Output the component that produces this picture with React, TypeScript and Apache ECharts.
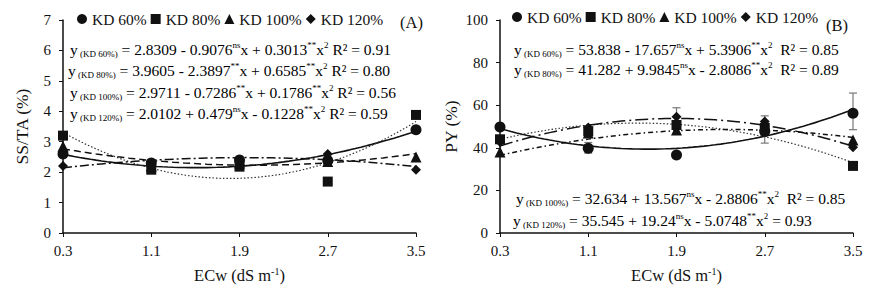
import React, { useEffect, useRef } from "react";
import * as echarts from "echarts";

// ---------- data ----------
const ecwLevels = [0.3, 1.1, 1.9, 2.7, 3.5];
const tickLabels = ["0.3", "1.1", "1.9", "2.7", "3.5"];
const seriesNames = ["KD 60%", "KD 80%", "KD 100%", "KD 120%"];

// Panel A: SS/TA (%)
const ssta60 = [2.6, 2.3, 2.4, 2.38, 3.39];
const ssta80 = [3.2, 2.08, 2.18, 1.69, 3.88];
const ssta100 = [2.85, 2.2, 2.3, 2.35, 2.5];
const ssta120 = [2.2, 2.2, 2.35, 2.6, 2.08];

// Panel B: PY (%)
const py60 = [49.8, 39.8, 36.6, 47.6, 56.2];
const py80 = [44.0, 47.8, 50.7, 49.3, 31.5];
const py100 = [38.0, 47.0, 48.4, 50.7, 43.7];
const py120 = [42.7, 49.5, 54.6, 52.3, 40.2];

// Panel B error bars: [ECw, low, high]
const pyErrorBars = [
  [1.1, 37.5, 42.5],
  [1.1, 45.8, 50.2],
  [1.9, 50.5, 58.8],
  [2.7, 42.2, 55.0],
  [3.5, 48.5, 65.7],
  [3.5, 30.0, 33.5],
];

// Quadratic trend coefficients [a, b, c] (y = a + b x + c x^2) as drawn
const sstaCoef60 = [2.8309, -0.9076, 0.3013];
const sstaCoef80 = [3.9605, -2.3897, 0.6585];
const sstaCoef100 = [2.9711, -0.7286, 0.1786];
const sstaCoef120 = [2.0102, 0.479, -0.1228];
const pyCoef60 = [53.838, -17.657, 5.3906];
const pyCoef80 = [39.9, 15.12, -4.883]; // drawn dotted curve
const pyCoef100 = [32.634, 13.567, -2.8806];
const pyCoef120 = [35.545, 19.24, -5.0748];

// Equation texts
const eqA = [
  ["KD 60%", "2.8309 - 0.9076", "ns", "x + 0.3013", "**", " R\u00b2 = 0.91"],
  ["KD 80%", "3.9605 - 2.3897", "**", "x + 0.6585", "**", " R\u00b2 = 0.80"],
  ["KD 100%", "2.9711 - 0.7286", "**", "x + 0.1786", "**", " R\u00b2 = 0.56"],
  ["KD 120%", "2.0102 + 0.479", "ns", "x - 0.1228", "**", " R\u00b2 = 0.59"],
];
const eqB = [
  ["KD 60%", "53.838 - 17.657", "ns", "x + 5.3906", "**", "  R\u00b2 = 0.85"],
  ["KD 80%", "41.282 + 9.9845", "ns", "x - 2.8086", "**", "  R\u00b2 = 0.89"],
  ["KD 100%", "32.634 + 13.567", "ns", "x - 2.8806", "**", "  R\u00b2 = 0.85"],
  ["KD 120%", "35.545 + 19.24", "ns", "x - 5.0748", "**", " = 0.93"],
];

const FONT = "'Liberation Serif', 'Times New Roman', serif";
const INK = "#111";

function curve(coef: number[]) {
  const pts: number[][] = [];
  for (let i = 0; i <= 64; i++) {
    const x = 0.3 + (3.2 * i) / 64;
    pts.push([x, coef[0] + coef[1] * x + coef[2] * x * x]);
  }
  return pts;
}

function eqText(e: string[]) {
  return (
    "{n|y}{sub| (" + e[0] + ")}{n| = " + e[1] + "}{sup|" + e[2] + "}{n|" + e[3] +
    "}{sup|" + e[4] + "}{n|x}{sup|2}{n|" + e[5] + "}"
  );
}

const rich = {
  n: { fontSize: 15.5, fontFamily: FONT, color: INK, lineHeight: 18 },
  sub: { fontSize: 9, fontFamily: FONT, color: INK, verticalAlign: "bottom", lineHeight: 9 },
  sup: { fontSize: 9, fontFamily: FONT, color: INK, verticalAlign: "top", lineHeight: 9 },
};

export default function App() {
  const ref = useRef<HTMLDivElement>(null);
  useEffect(() => {
    if (!ref.current) return;
    const chart = echarts.init(ref.current, null, { renderer: "svg" });
    const symbols = ["circle", "rect", "triangle", "diamond"];
    const symSizes = [11, 10, 11, 10];
    const sstaData = [ssta60, ssta80, ssta100, ssta120];
    const pyData = [py60, py80, py100, py120];
    const sstaCoefs = [sstaCoef60, sstaCoef80, sstaCoef100, sstaCoef120];
    const pyCoefs = [pyCoef60, pyCoef80, pyCoef100, pyCoef120];
    const dashA: any[] = ["solid", [1.5, 2], [7, 4], [9, 3, 2, 3]];
    const dashB: any[] = ["solid", [1.5, 2], [5, 3, 1.5, 3], [13, 4, 2, 4]];
    const widthsA = [1.6, 1.2, 1.5, 1.5];

    const axisLine = { show: true, lineStyle: { color: INK, width: 1.5 } };
    const labelStyle = { fontSize: 15, fontFamily: FONT, color: INK };

    const xAxisBase = (gridIndex: number) => ({
      type: "value",
      gridIndex,
      min: 0.3,
      max: 3.5,
      axisLine,
      axisTick: { show: true, customValues: ecwLevels, length: 4, lineStyle: { color: INK } },
      axisLabel: {
        ...labelStyle,
        margin: 10,
        customValues: ecwLevels,
        formatter: (v: number) => tickLabels[ecwLevels.findIndex((t) => Math.abs(t - v) < 1e-6)] ?? "",
      },
      splitLine: { show: false },
      name: "{n|ECw (dS m}{s|-1}{n|)}",
      nameLocation: "middle",
      nameGap: 33,
      nameTextStyle: {
        rich: {
          n: { fontSize: 16.5, fontFamily: FONT, color: INK, lineHeight: 18 },
          s: { fontSize: 10, fontFamily: FONT, color: INK, verticalAlign: "top", lineHeight: 10 },
        },
      },
    });

    const series: any[] = [];
    // trend curves
    for (let k = 0; k < 4; k++) {
      series.push({
        type: "line",
        name: "trendA" + k,
        xAxisIndex: 0,
        yAxisIndex: 0,
        data: curve(sstaCoefs[k]),
        showSymbol: false,
        silent: true,
        lineStyle: { color: k === 1 ? "#333" : INK, width: widthsA[k], type: dashA[k] },
        z: 2,
      });
      series.push({
        type: "line",
        name: "trendB" + k,
        xAxisIndex: 1,
        yAxisIndex: 1,
        data: curve(pyCoefs[k]),
        showSymbol: false,
        silent: true,
        lineStyle: { color: k === 1 ? "#333" : INK, width: widthsA[k], type: dashB[k] },
        z: 2,
      });
    }
    // error bars
    series.push({
      type: "custom",
      name: "errB",
      xAxisIndex: 1,
      yAxisIndex: 1,
      data: pyErrorBars,
      z: 3,
      renderItem: (params: any, api: any) => {
        const x = api.value(0);
        const lo = api.coord([x, api.value(1)]);
        const hi = api.coord([x, api.value(2)]);
        const w = 4;
        const st = { stroke: "#777", lineWidth: 1.2 };
        return {
          type: "group",
          children: [
            { type: "line", shape: { x1: lo[0], y1: lo[1], x2: hi[0], y2: hi[1] }, style: st },
            { type: "line", shape: { x1: lo[0] - w, y1: lo[1], x2: lo[0] + w, y2: lo[1] }, style: st },
            { type: "line", shape: { x1: hi[0] - w, y1: hi[1], x2: hi[0] + w, y2: hi[1] }, style: st },
          ],
        };
      },
    });
    // markers
    for (let k = 0; k < 4; k++) {
      series.push({
        type: "scatter",
        name: seriesNames[k],
        xAxisIndex: 0,
        yAxisIndex: 0,
        data: ecwLevels.map((x, i) => [x, sstaData[k][i]]),
        symbol: symbols[k],
        symbolSize: symSizes[k],
        itemStyle: { color: INK, opacity: 1 },
        z: 5,
      });
      series.push({
        type: "scatter",
        name: seriesNames[k],
        xAxisIndex: 1,
        yAxisIndex: 1,
        data: ecwLevels.map((x, i) => [x, pyData[k][i]]),
        symbol: symbols[k],
        symbolSize: symSizes[k],
        itemStyle: { color: INK, opacity: 1 },
        z: 5,
      });
    }

    const legendCommon = {
      orient: "horizontal",
      padding: 0,
      itemWidth: 10,
      itemHeight: 10,
      itemGap: 4,
      textStyle: { fontSize: 15.5, fontFamily: FONT, color: INK },
      selectedMode: false,
      data: seriesNames.map((n, i) => ({ name: n, icon: symbols[i], itemStyle: { opacity: 1, color: INK } })),
    };

    const graphics: any[] = [];
    const eqAy = [49, 70, 92, 113];
    const eqAx = [70, 68, 70, 70];
    eqA.forEach((e, i) =>
      graphics.push({
        type: "text",
        x: eqAx[i],
        y: eqAy[i],
        style: { text: eqText(e), rich, verticalAlign: "middle", align: "left" },
      })
    );
    const eqBy = [49, 69, 198, 220];
    const eqBx = [514, 514, 516, 513];
    eqB.forEach((e, i) =>
      graphics.push({
        type: "text",
        x: eqBx[i],
        y: eqBy[i],
        style: { text: eqText(e), rich, verticalAlign: "middle", align: "left" },
      })
    );
    graphics.push({
      type: "text",
      x: 400,
      y: 22,
      style: { text: "(A)", fontSize: 16.5, fontFamily: FONT, fill: INK, verticalAlign: "middle" },
    });
    graphics.push({
      type: "text",
      x: 826,
      y: 25,
      style: { text: "(B)", fontSize: 16.5, fontFamily: FONT, fill: INK, verticalAlign: "middle" },
    });

    chart.setOption({
      animation: false,
      backgroundColor: "#fff",
      grid: [
        { left: 63, right: 455, top: 20, bottom: 63 },
        { left: 500, right: 18, top: 20, bottom: 63 },
      ],
      legend: [
        { ...legendCommon, left: 77, top: 11 },
        { ...legendCommon, left: 512, top: 9 },
      ],
      xAxis: [xAxisBase(0), xAxisBase(1)],
      yAxis: [
        {
          type: "value",
          gridIndex: 0,
          min: 0,
          max: 7,
          interval: 1,
          axisLine,
          axisTick: { show: true, length: 4, lineStyle: { color: INK } },
          axisLabel: { ...labelStyle, margin: 12 },
          splitLine: { show: false },
          name: "SS/TA (%)",
          nameLocation: "middle",
          nameRotate: 90,
          nameGap: 32,
          nameTextStyle: { fontSize: 17.5, fontFamily: FONT, color: INK },
        },
        {
          type: "value",
          gridIndex: 1,
          min: 0,
          max: 100,
          interval: 20,
          axisLine,
          axisTick: { show: true, length: 4, lineStyle: { color: INK } },
          axisLabel: { ...labelStyle, margin: 12 },
          splitLine: { show: false },
          name: "PY (%)",
          nameLocation: "middle",
          nameRotate: 90,
          nameGap: 40,
          nameTextStyle: { fontSize: 17.5, fontFamily: FONT, color: INK },
        },
      ],
      graphic: graphics,
      series,
    });
    return () => chart.dispose();
  }, []);
  return <div ref={ref} style={{ width: 871, height: 296, margin: -8 }} />;
}
